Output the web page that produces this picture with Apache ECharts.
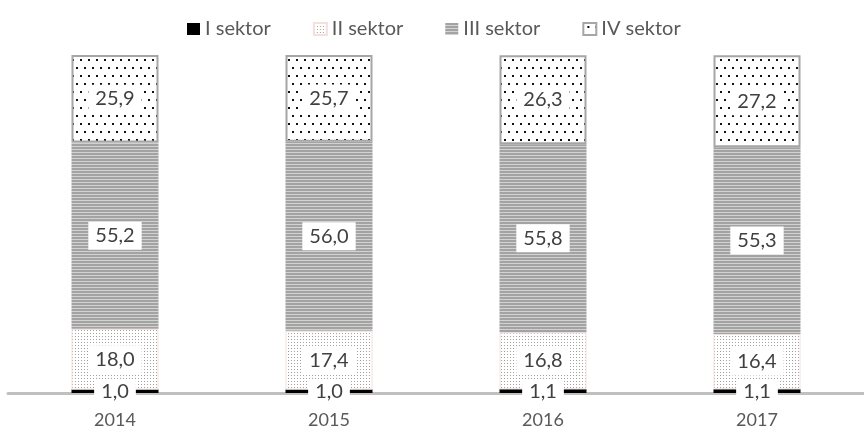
<!DOCTYPE html>
<html>
<head>
<meta charset="utf-8">
<script src="https://cdn.jsdelivr.net/npm/echarts@6/dist/echarts.min.js"></script>
<style>
  html, body { margin: 0; padding: 0; background: #fff; }
  #chart { width: 864px; height: 432px; }
</style>
</head>
<body>
<div id="chart"></div>
<script>
var years = ['2014', '2015', '2016', '2017'];
var seriesNames = ['I sektor', 'II sektor', 'III sektor', 'IV sektor'];
var sektor1 = [1.0, 1.0, 1.1, 1.1];
var sektor2 = [18.0, 17.4, 16.8, 16.4];
var sektor3 = [55.2, 56.0, 55.8, 55.3];
var sektor4 = [25.9, 25.7, 26.3, 27.2];

(function() {
  var ink = '#404040';
  var muted = '#595959';
  var font = 'Lato, "Open Sans", sans-serif';

  // small canvas tiles used as fill patterns
  function tile(w, h, draw) {
    var c = document.createElement('canvas');
    c.width = w; c.height = h;
    var ctx = c.getContext('2d');
    ctx.fillStyle = '#fff';
    ctx.fillRect(0, 0, w, h);
    draw(ctx);
    return { image: c, repeat: 'repeat' };
  }

  var fineDots = tile(3, 3, function(ctx) {
    ctx.fillStyle = '#a0a0a0';
    ctx.fillRect(0, 0, 1, 1);
  });
  var stripes = tile(3, 3, function(ctx) {
    ctx.fillStyle = '#a3a3a3';
    ctx.fillRect(0, 0, 3, 2);
    ctx.fillStyle = '#d2d2d2';
    ctx.fillRect(0, 2, 3, 1);
  });
  var sparseDots = tile(16, 16, function(ctx) {
    ctx.fillStyle = '#111';
    ctx.fillRect(4, 3, 2, 2);
    ctx.fillRect(12, 3, 2, 2);
    ctx.fillRect(0, 11, 2, 2);
    ctx.fillRect(8, 11, 2, 2);
  });

  function makeLabel(pad) {
    return {
      show: true,
      position: 'inside',
      color: ink,
      fontFamily: font,
      fontSize: 20,
      lineHeight: 22,
      backgroundColor: '#fff',
      padding: pad,
      formatter: function(p) { return p.value.toFixed(1).replace('.', ','); }
    };
  }

  function bar(name, data, itemStyle, pad) {
    return {
      name: name, type: 'bar', stack: 'total', data: data,
      barWidth: 87, itemStyle: itemStyle, label: makeLabel(pad || [3, 7])
    };
  }

  var chart = echarts.init(document.getElementById('chart'), null, { renderer: 'canvas' });
  chart.setOption({
    animation: false,
    backgroundColor: '#fff',
    legend: {
      top: 14, left: 182, itemWidth: 13, itemHeight: 12, itemGap: 42, icon: 'rect',
      textStyle: { color: muted, fontSize: 20, fontFamily: font },
      data: seriesNames
    },
    grid: { left: 8, right: -10, top: 55, bottom: 39 },
    xAxis: {
      type: 'category', data: years,
      axisLine: { lineStyle: { color: '#c0c0c0', width: 3 } },
      axisTick: { show: false },
      axisLabel: { color: muted, fontSize: 18, fontFamily: font, margin: 18 }
    },
    yAxis: { type: 'value', min: 0, max: 100.1, show: false, splitLine: { show: false } },
    series: [
      bar(seriesNames[0], sektor1, { color: '#000' }, [0, 7]),
      bar(seriesNames[1], sektor2, { color: fineDots, borderColor: '#f4e0dc', borderWidth: 1 }),
      bar(seriesNames[2], sektor3, { color: stripes }),
      bar(seriesNames[3], sektor4, { color: sparseDots, borderColor: '#a6a6a6', borderWidth: 2 })
    ]
  });
  window.addEventListener('resize', function() { chart.resize(); });
})();
</script>
</body>
</html>
